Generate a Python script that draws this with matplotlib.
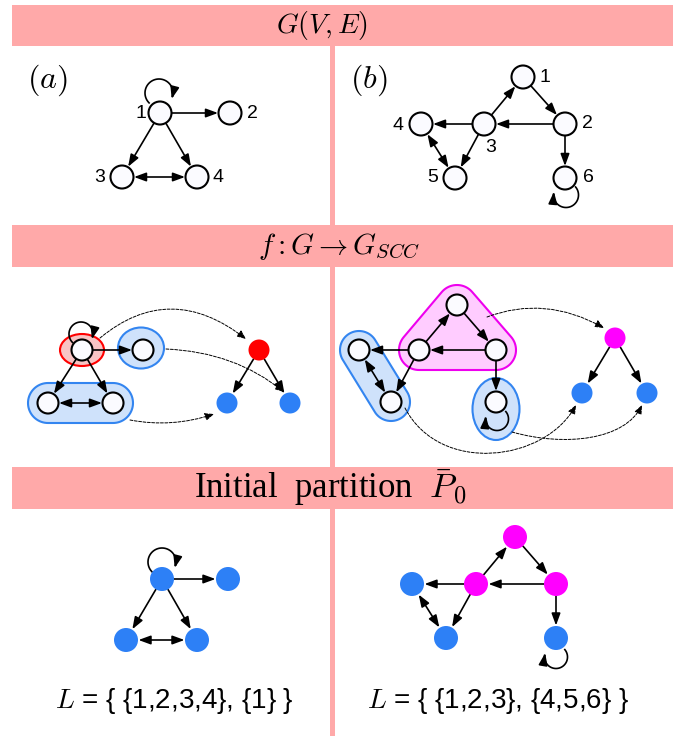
import numpy as np
import matplotlib
matplotlib.use("Agg")
import matplotlib.pyplot as plt
from matplotlib.patches import Circle, Ellipse, FancyArrowPatch, Rectangle, Polygon
from matplotlib.path import Path

plt.rcParams["mathtext.fontset"] = "cm"

# graph data
edges_a = [(1, 2), (1, 3), (1, 4)]
both_a = [(3, 4)]
loop_a = 1
edges_b = [(3, 1), (1, 2), (2, 3), (3, 4), (3, 5), (2, 6)]
both_b = [(4, 5)]
loop_b = 6

# strongly connected components and their colours
scc_a = [[1], [2], [3, 4]]
scc_a_colors = ["red", "blue", "blue"]
cond_edges_a = [(0, 1), (0, 2)]
scc_b = [[1, 2, 3], [4, 5], [6]]
scc_b_colors = ["magenta", "blue", "blue"]
cond_edges_b = [(0, 1), (0, 2)]

# initial partition colours
part_a = {1: "blue", 2: "blue", 3: "blue", 4: "blue"}
part_b = {1: "magenta", 2: "magenta", 3: "magenta", 4: "blue", 5: "blue", 6: "blue"}
L_a = "$L$ = { {1,2,3,4}, {1} }"
L_b = "$L$ = { {1,2,3}, {4,5,6} }"

# colours
PINK = "#ffa9a9"
NODE = {"blue": "#2d80f6", "red": "#ff0000", "magenta": "#ff00ff"}
BLOB_FACE = {"blue": "#cfe2fb", "red": "#f8c4c4", "magenta": "#ffccff"}
BLOB_EDGE = {"blue": "#3385f0", "red": "#ff0000", "magenta": "#ee00ee"}

# layout (pixel coordinates)
pos_a1 = {1: (160, 113), 2: (230, 113), 3: (122, 177), 4: (197, 177)}
pos_b1 = {1: (523, 77), 2: (565, 124), 3: (484, 124), 4: (421, 124), 5: (455, 178), 6: (565, 178)}
lab_a1 = {1: (141, 113), 2: (252, 113), 3: (100, 177), 4: (218, 177)}
lab_b1 = {1: (545, 77), 2: (587, 123), 3: (491, 147), 4: (398, 125), 5: (433, 178), 6: (588, 178)}
pos_a2 = {1: (82, 350), 2: (143, 350), 3: (48, 403), 4: (113, 403)}
pos_b2 = {1: (457, 305), 2: (496, 350), 3: (419, 350), 4: (359, 350), 5: (391, 402), 6: (496, 402)}
cond_a = [(259, 350), (290, 403), (227, 403)]
cond_b = [(615, 338), (582, 393), (647, 393)]
pos_a3 = {1: (162, 579), 2: (228, 579), 3: (126, 640), 4: (197, 640)}
pos_b3 = {1: (515, 537), 2: (556, 584), 3: (476, 584), 4: (412, 584), 5: (446, 638), 6: (556, 638)}

fig = plt.figure(figsize=(6.88, 7.36), dpi=100)
ax = fig.add_axes([0, 0, 1, 1])
ax.set_xlim(0, 688)
ax.set_ylim(736, 0)
ax.axis("off")

AST = "-|>,head_length=0.6,head_width=0.22"
DST = "<|-|>,head_length=0.6,head_width=0.22"


def arrow(p, q, rp, rq, style=AST, lw=1.2):
    p, q = np.array(p, float), np.array(q, float)
    u = (q - p) / np.linalg.norm(q - p)
    a, b = p + u * rp, q - u * (rq + 0.5)
    ax.add_patch(FancyArrowPatch(a, b, arrowstyle=style, mutation_scale=12,
                                 lw=lw, color="k", shrinkA=0, shrinkB=0, zorder=2))


def loop(c, r, t0, t1):
    t = np.radians(np.linspace(t0, t1, 60))
    xs = c[0] + r * np.cos(t)
    ys = c[1] - r * np.sin(t)
    ax.plot(xs[:-3], ys[:-3], color="k", lw=1.2, zorder=2)
    ax.add_patch(FancyArrowPatch((xs[-6], ys[-6]), (xs[-1], ys[-1]), arrowstyle=AST,
                                 mutation_scale=12, lw=1.2, color="k",
                                 shrinkA=0, shrinkB=0, zorder=2))


def node(p, r, color=None):
    if color is None:
        ax.add_patch(Circle(p, r, facecolor="#fbfbff", edgecolor="k", lw=1.5, zorder=3))
    else:
        ax.add_patch(Circle(p, r, facecolor=NODE[color], edgecolor="none", zorder=3))


def draw_graph(pos, edges, both, r, colors=None):
    for s, t in edges:
        arrow(pos[s], pos[t], r, r)
    for s, t in both:
        arrow(pos[s], pos[t], r + 0.5, r, style=DST)
    for k, p in pos.items():
        node(p, r, None if colors is None else colors[k])


def hull_blob(pts, R, color):
    ang = np.linspace(0, 2 * np.pi, 72, endpoint=False)
    cloud = np.vstack([np.array(p) + R * np.c_[np.cos(ang), np.sin(ang)] for p in pts])
    cloud = sorted(map(tuple, cloud))

    def cross(o, a, b):
        return (a[0] - o[0]) * (b[1] - o[1]) - (a[1] - o[1]) * (b[0] - o[0])
    lower, upper = [], []
    for p in cloud:
        while len(lower) >= 2 and cross(lower[-2], lower[-1], p) <= 0:
            lower.pop()
        lower.append(p)
    for p in reversed(cloud):
        while len(upper) >= 2 and cross(upper[-2], upper[-1], p) <= 0:
            upper.pop()
        upper.append(p)
    hull = lower[:-1] + upper[:-1]
    ax.add_patch(Polygon(hull, closed=True, facecolor=BLOB_FACE[color],
                         edgecolor=BLOB_EDGE[color], lw=1.5, zorder=1))


def ellipse_blob(c, w, h, color):
    ax.add_patch(Ellipse(c, w, h, facecolor=BLOB_FACE[color],
                         edgecolor=BLOB_EDGE[color], lw=1.5, zorder=1))


def dashed(pts):
    codes = [Path.MOVETO] + [Path.CURVE3 if len(pts) == 3 else Path.CURVE4] * (len(pts) - 1)
    ax.add_patch(FancyArrowPatch(path=Path(pts, codes),
                                 arrowstyle="-|>,head_length=0.6,head_width=0.25",
                                 mutation_scale=9, lw=0.7, color="k",
                                 linestyle=(0, (3, 1.5)), zorder=1.5))


# banners and divider
ax.add_patch(Rectangle((330, 46), 5, 690, color=PINK, lw=0, zorder=0))
for y0, h in [(5, 41), (225, 42), (467, 42)]:
    ax.add_patch(Rectangle((12, y0), 661, h, color=PINK, lw=0, zorder=0))

ax.text(322, 26, "$G(V,E)$", fontsize=20, ha="center", va="center")
ax.text(339, 247, r"$f : G \rightarrow G_{SCC}$", fontsize=21, ha="center", va="center")
ax.text(330, 488, r"Initial  partition  $\bar{P}_0$", fontsize=25, ha="center",
        va="center", family="Liberation Serif")

# section 1: the graphs
ax.text(47, 80, "$(a)$", fontsize=23, ha="center", va="center")
ax.text(369, 80, "$(b)$", fontsize=23, ha="center", va="center")
draw_graph(pos_a1, edges_a, both_a, 11.5)
draw_graph(pos_b1, edges_b, both_b, 11.5)
loop((159, 93), 14, 225, -25)
loop((566, 195), 12.5, 40, -195)
for lab in [lab_a1, lab_b1]:
    for k, p in lab.items():
        ax.text(p[0], p[1], str(k), fontsize=14, ha="center", va="center",
                family="Liberation Sans")

# section 2: condensation
ellipse_blob(pos_a2[1], 44, 32, "red")
ellipse_blob((141, 348), 46, 41, "blue")
hull_blob([pos_a2[3], pos_a2[4]], 20, "blue")
hull_blob([pos_b2[k] for k in scc_b[0]], 20, "magenta")
hull_blob([pos_b2[k] for k in scc_b[1]], 19, "blue")
ellipse_blob((496, 409), 47, 62, "blue")

draw_graph(pos_a2, edges_a, both_a, 10.5)
draw_graph(pos_b2, edges_b, both_b, 10.5)
loop((81, 334), 12, 225, -25)
loop((497, 419), 11.5, 40, -195)

for cond, cols, cedges in [(cond_a, scc_a_colors, cond_edges_a),
                           (cond_b, scc_b_colors, cond_edges_b)]:
    for s, t in cedges:
        arrow(cond[s], cond[t], 10.5, 10.5)
    for p, c in zip(cond, cols):
        node(p, 10.5, c)

dashed([(100, 338), (170, 280), (246, 339)])
dashed([(166, 349), (235, 352), (284, 392)])
dashed([(130, 420), (172, 428), (214, 414)])
dashed([(487, 317), (545, 295), (604, 328)])
dashed([(405, 408), (440, 475), (545, 462), (576, 405)])
dashed([(512, 432), (565, 447), (625, 440), (642, 405)])

# section 3: initial partition
draw_graph(pos_a3, edges_a, both_a, 12, part_a)
draw_graph(pos_b3, edges_b, both_b, 12, part_b)
loop((162, 562), 14, 225, -25)
loop((556, 657), 11.5, 40, -200)

ax.text(174, 701, L_a, fontsize=20, ha="center", va="center", family="Liberation Sans")
ax.text(498, 701, L_b, fontsize=20, ha="center", va="center", family="Liberation Sans")

fig.savefig("out.png", dpi=100)
